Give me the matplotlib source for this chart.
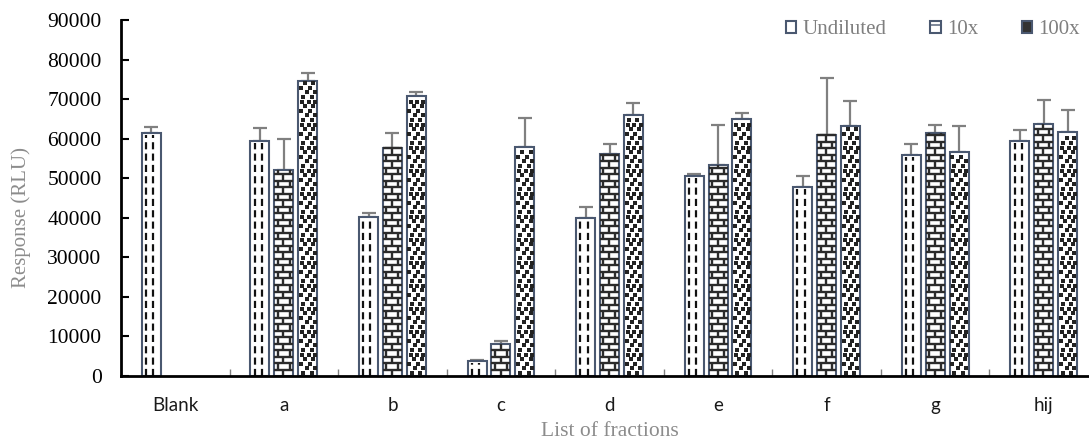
import numpy as np
import matplotlib.pyplot as plt
from matplotlib.collections import LineCollection
from matplotlib.patches import Patch

# values
categories = ['Blank', 'a', 'b', 'c', 'd', 'e', 'f', 'g', 'hij']
undiluted = [61500, 59400, 40300, 3800, 39900, 50500, 47900, 55900, 59500]
undiluted_err = [1400, 3200, 1000, 300, 2900, 600, 2700, 2800, 2600]
tenx = [np.nan, 52100, 57700, 8200, 56100, 53400, 60900, 61400, 63700]
tenx_err = [np.nan, 7800, 3700, 600, 2500, 10000, 14500, 2000, 6100]
hundredx = [np.nan, 74700, 70800, 58000, 66000, 65000, 63300, 56700, 61700]
hundredx_err = [np.nan, 1900, 1100, 7100, 3000, 1600, 6200, 6400, 5600]

edge = '#4a5870'
W, H = 1089, 444
fig = plt.figure(figsize=(W / 100, H / 100), dpi=100)
ax = fig.add_axes([121 / W, 68 / H, 977 / W, 356 / H])
ax.set_xlim(-0.5, 8.5)
ax.set_ylim(0, 90000)

# size of one pixel in data units
px_x = 9 / 977
px_y = 90000 / 356

x = np.arange(len(categories))
bw = 0.175
off = 0.22
b1 = ax.bar(x - off, undiluted, bw, color='white', edgecolor=edge, lw=1.5, zorder=2)
b2 = ax.bar(x, tenx, bw, color='white', edgecolor=edge, lw=1.5, zorder=2)
b3 = ax.bar(x + off, hundredx, bw, color='white', edgecolor=edge, lw=1.5, zorder=2)

for xs, v, e in [(x - off, undiluted, undiluted_err), (x, tenx, tenx_err), (x + off, hundredx, hundredx_err)]:
    ax.errorbar(xs, v, yerr=[np.zeros(len(e)), e], fmt='none', ecolor='#808080',
                elinewidth=1.6, capsize=5, capthick=1.6, zorder=1)

# patterns drawn inside the bars
def ok(b):
    return np.isfinite(b.get_height()) and b.get_height() > 0

for b in b1:
    if not ok(b):
        continue
    x0, w, h = b.get_x(), b.get_width(), b.get_height()
    for f in (0.22, 0.6):
        ax.plot([x0 + f * w] * 2, [0, h - 2 * px_y], color='#111111', lw=1.6,
                ls=(0, (3.2, 1.9)), zorder=3)

segs = []
for b in b2:
    if not ok(b):
        continue
    x0, w, h = b.get_x(), b.get_width(), b.get_height()
    dy = 6.5 * px_y
    n = int(h // dy)
    for k in range(1, n + 1):
        segs.append([(x0, k * dy), (x0 + w, k * dy)])
    for k in range(n + 1):
        y0, y1 = k * dy, min((k + 1) * dy, h)
        fr = (0.48,) if k % 2 == 0 else (0.18, 0.8)
        for f in fr:
            segs.append([(x0 + f * w, y0), (x0 + f * w, y1)])
ax.add_collection(LineCollection(segs, colors='#2b2b2b', lw=1.7, zorder=3))

dx_, dy_ = [], []
cycle = [(0.25, 0.7), (0.45, 0.86), (0.14, 0.6), (0.36, 0.8), (0.2, 0.55, 0.88)]
for b in b3:
    if not ok(b):
        continue
    x0, w, h = b.get_x(), b.get_width(), b.get_height()
    dy = 4.6 * px_y
    k = 0
    y = 3 * px_y
    while y < h - 2 * px_y:
        for f in cycle[k % len(cycle)]:
            dx_.append(x0 + f * w)
            dy_.append(y)
        y += dy
        k += 1
ax.scatter(dx_, dy_, marker='s', s=6, color='#222222', lw=0, zorder=3)

# axes styling
for s in ['top', 'right']:
    ax.spines[s].set_visible(False)
ax.spines['left'].set_linewidth(2)
ax.spines['bottom'].set_linewidth(2)
ax.spines['left'].set_zorder(4)
ax.spines['bottom'].set_zorder(4)

ax.set_yticks(np.arange(0, 90001, 10000))
ax.set_yticklabels([str(v) for v in range(0, 90001, 10000)], family='Liberation Serif', fontsize=15.5)
ax.tick_params(axis='y', direction='in', length=6, width=1.5, pad=14)

ax.set_xticks(x)
ax.set_xticklabels(categories, family='Lato', fontsize=13.5, color='#1a1a1a')
ax.set_xticks(np.arange(0.5, 8, 1), minor=True)
ax.tick_params(axis='x', which='major', length=0, pad=15)
ax.tick_params(axis='x', which='minor', direction='in', length=5, width=1, color='#808080')

ax.set_ylabel('Response (RLU)', family='Liberation Serif', fontsize=15, color='#8c8c8c')
ax.yaxis.set_label_coords(-0.092, 0.444)
ax.set_xlabel('List of fractions', family='Liberation Serif', fontsize=15.5, color='#8c8c8c', labelpad=6)

handles = [Patch(facecolor='white', edgecolor=edge, lw=1.5),
           Patch(facecolor='white', edgecolor=edge, lw=1.5, hatch='-'),
           Patch(facecolor='#333333', edgecolor=edge, lw=1.5)]
fig.legend(handles, ['Undiluted', '10x', '100x'], loc='upper right', bbox_to_anchor=(1099 / W, 0.997),
           ncol=3, frameon=False, handlelength=0.5, handleheight=0.5, handletextpad=0.3,
           columnspacing=2.1, prop={'family': 'Liberation Serif', 'size': 15}, labelcolor='#7f7f7f')

fig.savefig('out.png', dpi=100)
